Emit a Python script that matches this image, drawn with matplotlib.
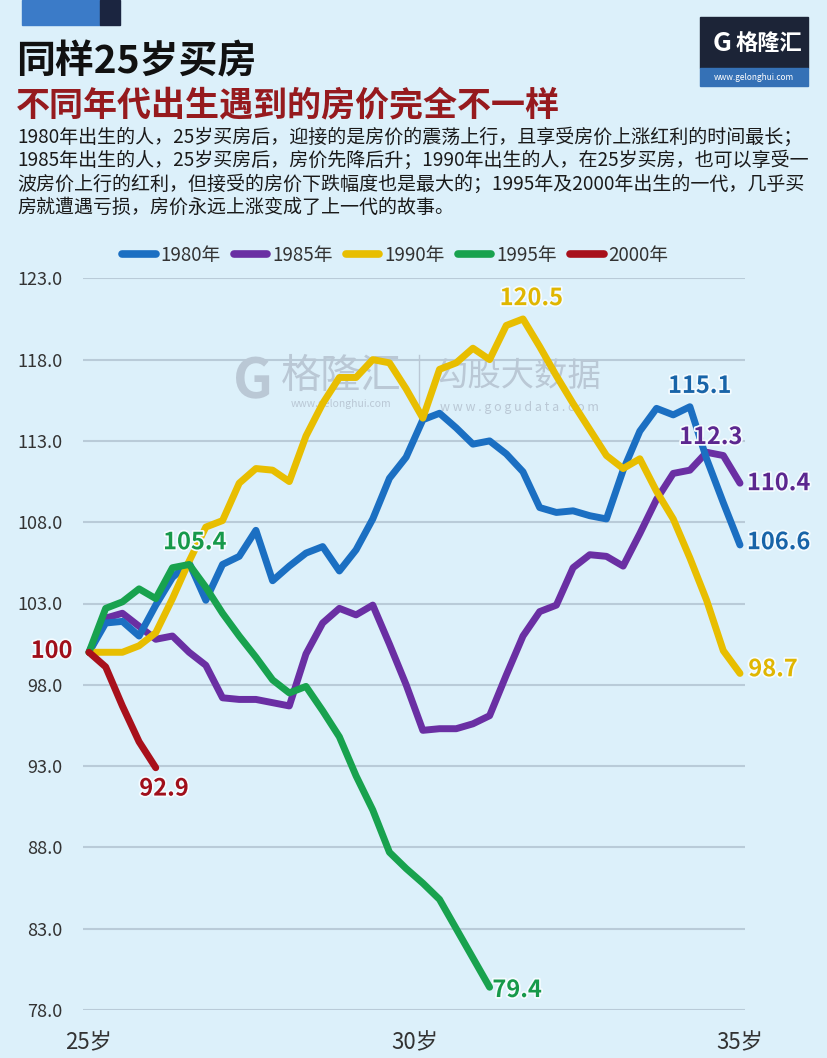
import matplotlib.pyplot as plt
import matplotlib.patheffects as pe
from matplotlib.patches import Rectangle

plt.rcParams['font.family'] = ['Noto Sans CJK SC', 'DejaVu Sans']

# quarterly house price index (100 = the quarter the cohort turns 25)
n_q = 40
ages = [25 + i * 10 / (n_q - 1) for i in range(n_q)]

cohorts = ['1980年', '1985年', '1990年', '1995年', '2000年']
colors = ['#1b6fc2', '#6a2fa3', '#e8be00', '#18a24e', '#a8101b']
label_colors = ['#1864a8', '#5c278f', '#e0b600', '#17994a', '#a00f1a']

price_1980 = [100, 101.8, 101.9, 101.0, 102.9, 104.6, 105.5, 103.2, 105.4, 105.9,
              107.5, 104.4, 105.3, 106.1, 106.5, 105.0, 106.3, 108.2, 110.7, 112.0,
              114.3, 114.7, 113.8, 112.8, 113.0, 112.2, 111.1, 108.9, 108.6, 108.7,
              108.4, 108.2, 111.2, 113.6, 115.0, 114.6, 115.1, 111.9, 109.2, 106.6]
price_1985 = [100, 102.1, 102.4, 101.6, 100.8, 101.0, 100.0, 99.2, 97.2, 97.1,
              97.1, 96.9, 96.7, 99.9, 101.8, 102.7, 102.3, 102.9, 100.5, 98.0,
              95.2, 95.3, 95.3, 95.6, 96.1, 98.6, 101.0, 102.5, 102.9, 105.2,
              106.0, 105.9, 105.3, 107.3, 109.4, 111.0, 111.2, 112.3, 112.1, 110.4]
price_1990 = [100, 100.0, 100.0, 100.4, 101.2, 103.3, 105.6, 107.7, 108.1, 110.4,
              111.3, 111.2, 110.5, 113.3, 115.3, 116.9, 116.9, 118.0, 117.8, 116.2,
              114.4, 117.4, 117.8, 118.7, 118.0, 120.1, 120.5, 118.8, 117.0, 115.3,
              113.7, 112.1, 111.3, 111.9, 109.9, 108.2, 105.8, 103.2, 100.1, 98.7]
price_1995 = [100, 102.7, 103.1, 103.9, 103.3, 105.2, 105.4, 104.0, 102.4, 101.0,
              99.7, 98.3, 97.5, 97.9, 96.4, 94.8, 92.4, 90.3, 87.7, 86.7,
              85.8, 84.8, 83.0, 81.2, 79.4]
price_2000 = [100, 99.1, 96.7, 94.5, 92.9]
series = [price_1980, price_1985, price_1990, price_1995, price_2000]

yticks = [78.0, 83.0, 88.0, 93.0, 98.0, 103.0, 108.0, 113.0, 118.0, 123.0]
xticks = [25, 30, 35]
xticklabels = ['25岁', '30岁', '35岁']

title = '同样25岁买房'
subtitle = '不同年代出生遇到的房价完全不一样'
body = ['1980年出生的人，25岁买房后，迎接的是房价的震荡上行，且享受房价上涨红利的时间最长；',
        '1985年出生的人，25岁买房后，房价先降后升；1990年出生的人，在25岁买房，也可以享受一',
        '波房价上行的红利，但接受的房价下跌幅度也是最大的；1995年及2000年出生的一代，几乎买',
        '房就遭遇亏损，房价永远上涨变成了上一代的故事。']

bg = '#dcf0fa'
W, H = 828, 1058


def fx(px):
  return px / W


def fy(py):
  return 1 - py / H


fig = plt.figure(figsize=(W / 100, H / 100), dpi=100)
fig.patch.set_facecolor(bg)

# header blocks and logo
fig.patches.append(Rectangle((fx(22), fy(25)), fx(100) - fx(22), 25 / H,
                             transform=fig.transFigure, color='#3b7bc8'))
fig.patches.append(Rectangle((fx(100), fy(25)), fx(120) - fx(100), 25 / H,
                             transform=fig.transFigure, color='#1b2540'))
fig.patches.append(Rectangle((fx(700), fy(68)), 108 / W, 51 / H,
                             transform=fig.transFigure, color='#1c2437'))
fig.patches.append(Rectangle((fx(700), fy(86)), 108 / W, 18 / H,
                             transform=fig.transFigure, color='#3571b6'))
fig.text(fx(722), fy(43), 'G', color='white', fontsize=19, fontweight='bold',
         ha='center', va='center')
fig.text(fx(769), fy(43), '格隆汇', color='white', fontsize=16, fontweight='bold',
         ha='center', va='center')
fig.text(fx(754), fy(77), 'www.gelonghui.com', color='white', fontsize=6,
         ha='center', va='center')

fig.text(fx(16), fy(62), title, fontsize=28, fontweight='bold', color='#111111',
         va='center', ha='left')
fig.text(fx(16), fy(105), subtitle, fontsize=24.5, fontweight='bold', color='#961a1e',
         va='center', ha='left')
for k, line in enumerate(body):
  fig.text(fx(17), fy(137 + k * 23.5), line, fontsize=13.7, color='#1a1a1a',
           va='center', ha='left')

ax = fig.add_axes([fx(83), fy(1010), (745 - 83) / W, (1010 - 278.3) / H])
ax.set_facecolor(bg)
ax.set_xlim(24.908, 35.077)
ax.set_ylim(78, 123)

# watermark
wm = '#bac8d5'
ax.text(0.257, 0.858, 'G', transform=ax.transAxes, fontsize=40, fontweight='bold',
        color=wm, ha='center', va='center', zorder=1)
ax.text(0.39, 0.866, '格隆汇', transform=ax.transAxes, fontsize=29, color=wm,
        ha='center', va='center', zorder=1)
ax.text(0.39, 0.828, 'www.gelonghui.com', transform=ax.transAxes, fontsize=7.5,
        color=wm, ha='center', va='center', zorder=1)
ax.plot([0.508, 0.508], [0.82, 0.895], transform=ax.transAxes, color=wm, lw=1, zorder=1)
ax.text(0.657, 0.866, '勾股大数据', transform=ax.transAxes, fontsize=24, color=wm,
        ha='center', va='center', zorder=1)
ax.text(0.66, 0.823, 'w w w . g o g u d a t a . c o m', transform=ax.transAxes,
        fontsize=9, color=wm, ha='center', va='center', zorder=1)

order = [2, 1, 3, 4, 5]
for vals, name, c, z in zip(series, cohorts, colors, order):
  ax.plot(ages[:len(vals)], vals, color=c, lw=5, label=name, zorder=2 + z,
          solid_capstyle='round', solid_joinstyle='round', clip_on=False)

ax.set_yticks(yticks)
ax.set_yticklabels([f'{v:.1f}' for v in yticks])
ax.set_xticks(xticks)
ax.set_xticklabels(xticklabels)
ax.tick_params(axis='y', length=0, pad=15, labelsize=13, labelcolor='#333333')
ax.tick_params(axis='x', length=0, pad=15, labelsize=16, labelcolor='#333333')
ax.grid(axis='y', color='#b9cbd8', lw=1.5)
ax.set_axisbelow(True)
for s in ax.spines.values():
  s.set_visible(False)

# value labels: (series, point, offset in points, ha)
notes = [(4, 0, (-12, 1), 'right'),
         (4, -1, (6, -15), 'center'),
         (3, 6, (4, 16), 'center'),
         (2, 26, (6, 15), 'center'),
         (0, 36, (7, 15), 'center'),
         (1, 37, (3, 11), 'center'),
         (1, -1, (5, 0), 'left'),
         (0, -1, (5, 2), 'left'),
         (2, -1, (6, 3), 'left'),
         (3, -1, (2, -2), 'left')]
for si, pi, off, ha in notes:
  vals = series[si]
  x = ages[pi % len(vals)]
  v = vals[pi]
  txt = '100' if v == 100 else f'{v:.1f}'
  ax.annotate(txt, (x, v), xytext=off, textcoords='offset points', ha=ha, va='center',
              fontsize=17, fontweight='bold', color=label_colors[si], zorder=10,
              annotation_clip=False,
              path_effects=[pe.withStroke(linewidth=2.5, foreground='#f4fbff')])

leg = ax.legend(loc='center', bbox_to_anchor=(fx(395), fy(255)),
                bbox_transform=fig.transFigure, ncol=5, frameon=False,
                fontsize=13.5, handlelength=1.8, handletextpad=0.25, columnspacing=0.7)
for h in leg.get_lines():
  h.set_linewidth(5.5)
for t in leg.get_texts():
  t.set_color('#333333')

fig.savefig('out.png', dpi=100, facecolor=bg)
